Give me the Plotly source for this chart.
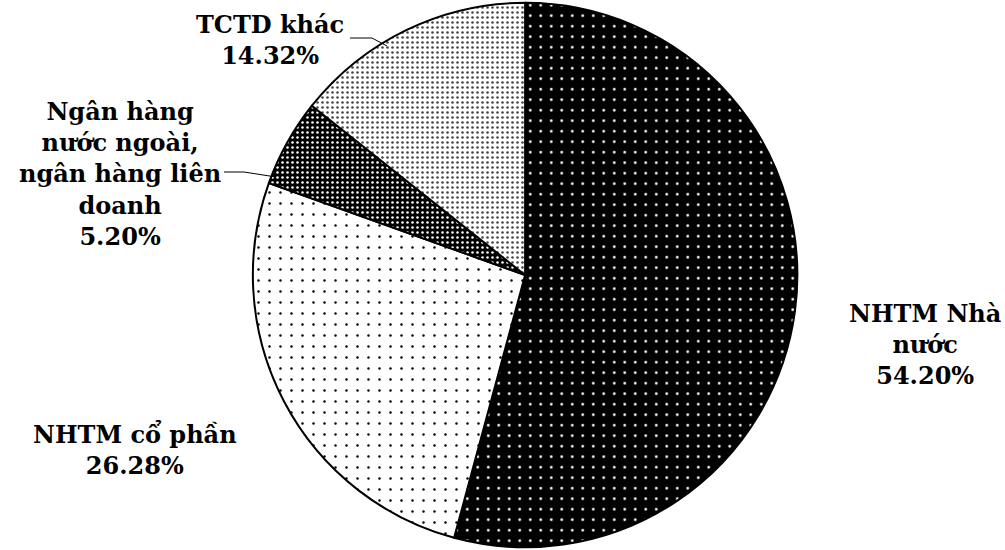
import plotly.graph_objects as go

labels = ["NHTM Nhà nước", "NHTM cổ phần", "Ngân hàng nước ngoài, ngân hàng liên doanh", "TCTD khác"]
values = [54.20, 26.28, 5.20, 14.32]
label_texts = ["NHTM Nhà<br>nước<br>54.20%", "NHTM cổ phần<br>26.28%",
               "Ngân hàng<br>nước ngoài,<br>ngân hàng liên<br>doanh<br>5.20%", "TCTD khác<br>14.32%"]

W, H = 1005, 550
def px(x):
    return x / W
def py(y):
    return 1 - y / H

fig = go.Figure(go.Pie(
    labels=labels, values=values, sort=False, direction="clockwise", rotation=0,
    textinfo="none", hoverinfo="label+percent",
    domain=dict(x=[0.2, 0.845], y=[0.005, 0.995]),
    marker=dict(
        colors=["black", "white", "black", "white"],
        line=dict(color="black", width=2),
        pattern=dict(
            shape=[".", ".", ".", "."],
            bgcolor=["black", "white", "black", "white"],
            fgcolor=["white", "black", "white", "#444444"],
            size=[10.5, 11, 5, 5],
            solidity=[0.05, 0.04, 0.2, 0.2],
            fillmode="replace",
        ),
    ),
))

font = dict(family="DejaVu Serif", size=24, color="black")
ann_pos = [(925, 344), (135, 450), (120, 174), (270, 40)]
annotations = []
for t, (x, y) in zip(label_texts, ann_pos):
    annotations.append(dict(text="<b>" + t + "</b>", x=px(x), y=py(y), xref="paper", yref="paper",
                            showarrow=False, font=font, align="center",
                            xanchor="center", yanchor="middle"))

shapes = [
    dict(type="path", xref="paper", yref="paper",
         path=f"M {px(350)} {py(38)} L {px(372)} {py(38)} L {px(387)} {py(46)}",
         line=dict(color="black", width=1)),
    dict(type="path", xref="paper", yref="paper",
         path=f"M {px(224)} {py(172)} L {px(244)} {py(172)} L {px(276)} {py(177)}",
         line=dict(color="black", width=1)),
]

fig.update_layout(
    width=W, height=H, margin=dict(l=0, r=0, t=0, b=0),
    paper_bgcolor="white", plot_bgcolor="white", showlegend=False,
    annotations=annotations, shapes=shapes,
)
fig.write_html("out.html")
